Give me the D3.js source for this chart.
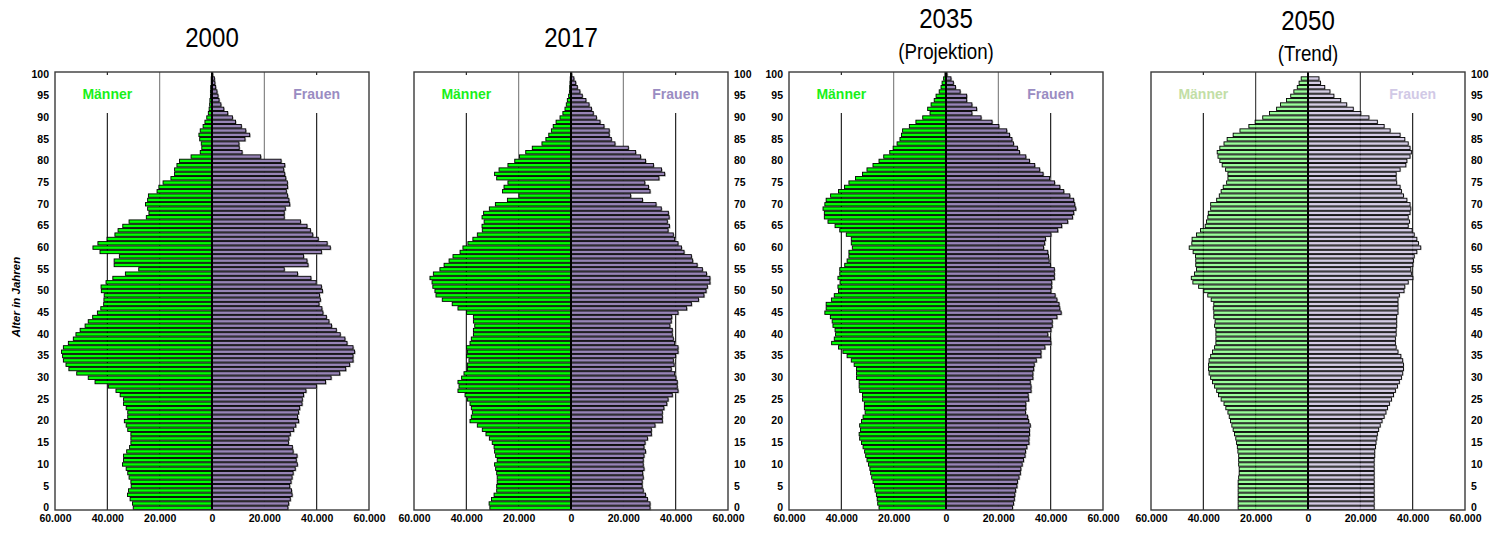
<!DOCTYPE html>
<html><head><meta charset="utf-8">
<script src="https://cdn.jsdelivr.net/npm/d3@7/dist/d3.min.js"></script>
<style>
body{margin:0;background:#fff}
svg{display:block}
text{font-family:"Liberation Sans",Arial,Helvetica,sans-serif}
</style>
</head><body>
<svg id="chart" width="1498" height="533"></svg>
<script>
// ---- data (population per single year of age, in thousands; index = age 0..100) ----
const ages = d3.range(0, 101);
const ageTicks = d3.range(0, 101, 5);
const xTicks = [-60000, -40000, -20000, 0, 20000, 40000, 60000];
const titles = ["2000", "2017", "2035", "2050"];
const subtitles = ["", "", "(Projektion)", "(Trend)"];
const seriesNames = ["Männer", "Frauen"];
const yAxisTitle = "Alter in Jahren";

const men2000 = [
30.1,30.4,31.3,32.3,31.9,30.9,31.0,31.7,32.2,32.8,
34.2,33.8,33.8,32.6,31.5,31.0,31.0,31.0,32.2,32.8,
33.5,32.2,32.2,32.8,33.8,33.8,35.1,36.7,39.6,44.7,
47.3,51.7,54.7,55.8,56.8,57.1,57.5,56.8,54.9,53.0,
52.0,50.4,48.5,47.3,45.6,43.8,42.5,41.4,41.3,41.2,
42.3,42.4,40.5,37.9,33.1,28.0,37.4,37.4,35.4,42.8,
45.5,43.6,40.1,37.1,35.9,34.1,31.7,25.1,24.1,24.6,
25.4,24.6,24.3,21.0,20.3,18.7,15.7,14.3,14.3,13.4,
12.4,8.0,4.5,3.9,4.1,4.7,5.0,4.5,3.4,2.7,
2.0,1.4,1.1,0.9,0.8,0.6,0.6,0.5,0.3,0.3,
0.2];
const women2000 = [
29.0,29.3,29.9,30.6,30.4,29.7,30.2,30.6,31.0,31.8,
32.6,32.2,32.5,31.0,30.7,29.2,29.4,29.9,31.2,32.0,
33.1,32.7,33.1,33.5,34.4,34.5,35.0,35.9,39.9,43.4,
45.5,48.8,51.1,52.6,53.9,53.9,54.5,53.9,51.6,50.8,
49.0,47.5,45.7,44.7,43.7,42.4,42.0,40.9,41.4,41.1,
42.2,41.8,39.8,37.8,32.7,27.6,36.7,36.3,35.0,41.8,
45.2,44.0,40.6,38.5,37.6,36.3,33.8,27.6,27.6,28.0,
29.7,29.4,28.9,28.4,28.9,28.8,28.2,27.8,27.4,27.8,
26.4,18.6,11.5,10.4,10.3,12.6,14.4,12.9,11.2,9.0,
7.8,6.0,4.5,3.4,2.7,2.3,1.9,1.4,1.1,0.9,
0.3];
const men2017 = [
31.0,31.3,30.4,29.4,28.4,28.4,28.2,28.2,28.4,28.8,
29.2,28.2,28.8,29.2,29.4,30.1,31.2,32.5,33.9,35.8,
38.6,38.1,37.7,38.1,38.6,39.6,40.5,43.2,42.8,43.2,
41.8,40.9,39.6,39.6,39.0,39.9,39.6,39.9,38.6,38.1,
37.3,37.3,36.8,37.3,37.3,39.9,43.2,45.4,49.2,51.6,
52.0,52.8,53.1,53.9,52.6,50.1,48.5,46.6,45.1,42.4,
41.3,39.4,37.5,35.8,33.9,34.0,33.2,34.0,33.4,31.2,
28.9,24.3,19.9,26.2,25.6,24.1,28.4,29.2,27.5,24.1,
21.5,19.7,17.3,14.8,11.1,9.6,8.5,7.5,6.8,5.7,
4.2,3.1,2.3,1.8,1.4,0.9,0.6,0.5,0.4,0.3,
0.2];
const women2017 = [
30.2,30.2,29.2,28.5,27.6,27.2,27.2,27.6,27.4,27.9,
27.6,27.6,27.9,28.5,27.9,28.3,29.2,30.7,30.7,32.1,
34.9,34.9,34.9,35.5,36.6,37.1,38.7,40.9,40.6,40.6,
40.1,39.6,38.3,39.4,39.1,40.0,40.9,40.9,39.6,39.1,
38.7,38.7,37.8,38.3,38.5,40.9,44.2,46.0,48.7,50.8,
51.6,52.1,53.1,53.1,51.8,50.2,48.2,46.5,46.0,43.2,
42.2,40.9,39.6,39.1,37.1,37.6,36.8,37.5,37.2,34.5,
32.5,27.3,22.8,30.2,29.6,28.2,33.6,35.8,34.6,31.5,
28.5,26.6,24.7,21.9,16.8,15.4,14.6,14.6,12.6,11.1,
9.7,8.5,7.8,6.9,5.7,4.3,3.4,2.4,1.8,1.1,
0.3];
const men2035 = [
25.6,26.1,26.3,26.6,27.1,27.3,27.9,28.4,28.8,29.1,
29.6,30.2,30.7,31.1,31.7,32.3,33.0,33.2,32.7,33.0,
32.3,31.7,30.9,31.2,31.2,31.9,31.9,33.0,33.2,33.2,
34.2,34.2,34.2,35.1,36.2,37.8,39.4,41.1,43.7,42.7,
42.2,42.4,43.2,43.5,44.2,46.3,45.8,45.8,43.8,42.7,
41.1,41.3,40.5,41.3,40.6,40.6,38.7,37.8,37.1,37.1,
35.8,36.2,36.2,38.1,40.6,42.4,45.1,46.5,46.5,47.0,
46.3,45.8,44.1,41.1,38.8,37.1,34.6,31.9,30.2,27.9,
25.6,23.8,21.5,20.2,18.7,17.6,17.0,16.6,14.0,11.5,
8.9,6.1,7.0,5.7,4.5,3.8,2.6,1.9,1.5,0.9,
0.4];
const women2035 = [
25.4,25.8,26.1,26.3,26.6,27.1,27.3,27.9,28.4,28.6,
29.1,29.6,30.2,30.4,30.9,31.7,31.7,31.9,31.9,32.2,
31.6,31.2,30.4,30.5,30.5,31.6,31.4,32.5,32.5,32.2,
33.2,33.2,33.5,33.7,34.5,36.3,36.3,37.8,40.1,39.9,
38.9,40.1,40.6,40.6,42.4,44.0,43.5,43.2,42.4,41.7,
40.1,40.4,40.4,41.4,41.4,41.4,39.9,39.4,39.2,38.9,
37.3,37.7,38.0,40.1,42.7,44.2,46.5,48.3,48.8,49.6,
49.2,48.8,47.3,45.0,43.5,41.5,39.6,37.1,35.8,33.9,
31.9,30.5,28.1,27.3,25.8,25.2,24.3,23.2,20.2,17.6,
13.4,9.9,11.7,9.9,7.9,7.9,5.4,3.6,2.8,1.9,
0.4];
const men2050 = [
26.7,26.7,26.7,26.7,26.7,26.7,26.7,26.5,26.3,26.3,
26.5,26.5,26.5,26.8,27.0,27.3,27.6,28.1,28.6,29.1,
29.6,30.1,30.6,31.4,32.1,33.2,34.2,34.9,35.7,36.5,
37.2,37.8,38.0,38.0,37.8,37.2,36.5,35.7,35.2,35.2,
35.2,35.2,35.7,35.5,36.0,36.0,36.2,36.0,37.0,38.3,
39.8,41.8,44.0,44.6,43.4,42.6,42.9,42.9,43.0,43.9,
45.4,44.4,44.3,42.6,41.1,39.3,38.8,38.3,38.1,37.2,
37.2,34.9,33.9,33.2,32.4,31.1,30.6,30.6,31.5,32.8,
33.7,34.4,34.7,33.7,32.1,30.9,28.6,26.0,22.6,20.2,
17.3,14.7,12.0,10.5,8.2,6.6,5.4,4.1,3.4,2.6,
0];
const women2050 = [
25.3,25.3,25.3,25.3,25.3,25.3,25.3,25.3,25.3,25.3,
25.3,25.3,25.5,25.5,25.8,26.0,26.3,26.5,27.0,27.6,
28.3,29.1,29.8,30.4,31.1,31.9,32.7,33.4,34.2,34.9,
35.7,36.2,36.5,36.5,36.2,35.5,34.4,33.7,33.4,33.4,
33.7,33.7,33.9,33.9,33.9,34.4,34.4,34.4,34.4,34.9,
36.7,37.0,38.3,40.1,39.5,39.3,40.1,40.3,40.6,41.6,
43.1,42.2,41.6,40.6,39.8,38.3,38.8,38.3,39.0,39.3,
39.0,37.8,36.5,35.7,35.2,33.9,33.7,33.7,35.2,37.4,
37.8,39.0,39.5,39.0,38.3,37.0,35.2,31.4,29.1,26.5,
23.3,20.2,17.3,14.8,12.5,9.9,8.4,6.4,4.8,4.2,
0];

const menSeries = [men2000, men2017, men2035, men2050];
const womenSeries = [women2000, women2017, women2035, women2050];

// ---- layout ----
const W = 314, TOP = 72, BOTTOM = 510;
const layout = [
  {left: 55,   ySide: "left",  titleY: 47, subY: 0,  faded: false},
  {left: 414,  ySide: "right", titleY: 47, subY: 0,  faded: false},
  {left: 789,  ySide: "left",  titleY: 28, subY: 59, faded: false},
  {left: 1151, ySide: "right", titleY: 30, subY: 61, faded: true}
];
const GREEN = "#00ff00", PURPLE = "#9784b6";
const GREEN_F = "#84fc84", PURPLE_F = "#cfc6e3";

const de = d3.formatLocale({decimal: ",", thousands: ".", grouping: [3], currency: ["", " €"]});
const fmt = de.format(",");

const svg = d3.select("#chart");
svg.append("rect").attr("width", 1498).attr("height", 533).attr("fill", "#fff");

layout.forEach((L, i) => {
  const g = svg.append("g");
  const x = d3.scaleLinear().domain([-60000, 60000]).range([L.left, L.left + W]);
  const y = d3.scaleBand().domain(ages).range([BOTTOM, TOP]).paddingInner(0.22).paddingOuter(0.11);
  const men = menSeries[i], women = womenSeries[i];
  const cx = x(0);

  // titles
  g.append("text").attr("transform", `translate(${cx},${L.titleY}) scale(0.86,1)`)
    .attr("text-anchor", "middle").attr("font-size", 28).attr("fill", "#000").text(titles[i]);
  if (subtitles[i]) {
    g.append("text").attr("transform", `translate(${cx},${L.subY}) scale(0.87,1)`)
      .attr("text-anchor", "middle").attr("font-size", 21.5).attr("fill", "#000").text(subtitles[i]);
  }

  // gridlines
  [-40000, -20000, 20000, 40000].forEach(v => {
    g.append("line").attr("x1", x(v)).attr("x2", x(v)).attr("y1", TOP).attr("y2", BOTTOM)
      .attr("stroke", Math.abs(v) === 40000 ? "#111" : (L.faded ? "#333" : "#7a7a7a")).attr("stroke-width", 1.1);
  });

  // legend labels with white boxes
  [-40000, 40000].forEach((v, k) => {
    g.append("rect").attr("x", x(v) - 32).attr("y", TOP + 3).attr("width", 64).attr("height", 38).attr("fill", "#fff");
    const col = L.faded ? (k === 0 ? "#c2dea6" : "#d1c9e6") : (k === 0 ? "#19f019" : "#9a8cc2");
    g.append("text").attr("x", x(v)).attr("y", TOP + 27).attr("text-anchor", "middle")
      .attr("font-size", 14).attr("font-weight", "bold").attr("fill", col).text(seriesNames[k]);
  });

  const h = y.bandwidth();
  // shadows (women side)
  g.append("g").selectAll("rect").data(ages).join("rect")
    .attr("x", cx + 1.2)
    .attr("y", a => y(a) + 1)
    .attr("width", a => x(women[a] * 1000) - cx)
    .attr("height", h).attr("fill", "#9c9c9c").attr("opacity", L.faded ? 0.25 : 0.8);
  // men bars
  g.append("g").selectAll("rect").data(ages).join("rect")
    .attr("x", a => x(-men[a] * 1000))
    .attr("y", a => y(a))
    .attr("width", a => cx - x(-men[a] * 1000))
    .attr("height", h)
    .attr("fill", L.faded ? GREEN_F : GREEN).attr("fill-opacity", L.faded ? 0.82 : 1)
    .attr("stroke", "#000").attr("stroke-width", 0.9);
  // women bars
  g.append("g").selectAll("rect").data(ages).join("rect")
    .attr("x", cx)
    .attr("y", a => y(a))
    .attr("width", a => x(women[a] * 1000) - cx)
    .attr("height", h)
    .attr("fill", L.faded ? PURPLE_F : PURPLE).attr("fill-opacity", L.faded ? 0.82 : 1)
    .attr("stroke", "#000").attr("stroke-width", 0.9);

  // center line
  g.append("line").attr("x1", cx).attr("x2", cx).attr("y1", TOP).attr("y2", BOTTOM)
    .attr("stroke", "#000").attr("stroke-width", 2);

  // frame
  g.append("rect").attr("x", L.left).attr("y", TOP).attr("width", W).attr("height", BOTTOM - TOP)
    .attr("fill", "none").attr("stroke", "#3a3a3a").attr("stroke-width", 1.4);

  // x axis
  const xa = g.append("g").attr("transform", `translate(0,${BOTTOM})`)
    .call(d3.axisBottom(x).tickValues(xTicks).tickFormat(d => fmt(Math.abs(d))).tickSize(0).tickPadding(5));
  xa.select(".domain").remove();
  xa.selectAll("text").attr("font-size", 10.5).attr("font-weight", "bold").attr("fill", "#000")
    .attr("font-family", "'Liberation Sans',Arial,sans-serif");

  // y axis
  const axisFn = L.ySide === "left" ? d3.axisLeft(y) : d3.axisRight(y);
  const ya = g.append("g").attr("transform", `translate(${L.ySide === "left" ? L.left : L.left + W},0)`)
    .call(axisFn.tickValues(ageTicks).tickSize(0).tickPadding(6));
  ya.select(".domain").remove();
  ya.selectAll("text").attr("font-size", 10.5).attr("font-weight", "bold").attr("fill", "#000")
    .attr("font-family", "'Liberation Sans',Arial,sans-serif");
});

// y axis title
svg.append("text").attr("transform", "translate(20,297) rotate(-90)")
  .attr("text-anchor", "middle").attr("font-size", 11.5).attr("font-weight", "bold")
  .attr("font-style", "italic").attr("fill", "#000").text(yAxisTitle);
</script>
</body></html>
